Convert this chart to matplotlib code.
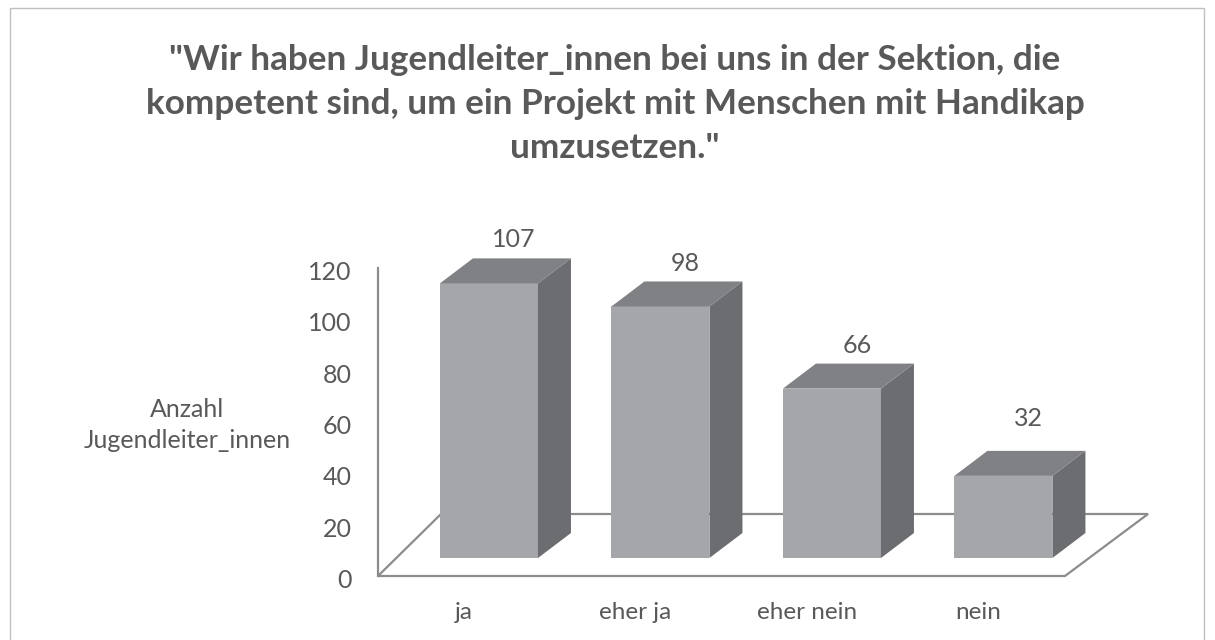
import matplotlib.pyplot as plt
from matplotlib.patches import Polygon, Rectangle
from matplotlib.transforms import ScaledTranslation

categories = ["ja", "eher ja", "eher nein", "nein"]
values = [107, 98, 66, 32]
y_ticks = [0, 20, 40, 60, 80, 100, 120]
title = ('"Wir haben Jugendleiter_innen bei uns in der Sektion, die\n'
         'kompetent sind, um ein Projekt mit Menschen mit Handikap\n'
         'umzusetzen."')
y_label = "Anzahl\nJugendleiter_innen"

W, H = 1215, 640
LEFT, RIGHT, BOTTOM, TOP = 378, 1065, 576, 268
TEXT = "#595959"

plt.rcParams["font.family"] = ["Lato", "DejaVu Sans"]

fig = plt.figure(figsize=(W / 100, H / 100), dpi=100)
fig.add_artist(Rectangle((9.5 / W, -0.01), 1194 / W, 1 - 7.5 / H + 0.01, fill=False,
                         edgecolor="#c0c0c0", linewidth=1, transform=fig.transFigure))

ax = fig.add_axes([LEFT / W, 1 - BOTTOM / H, (RIGHT - LEFT) / W, (BOTTOM - TOP) / H])
ax.patch.set_alpha(0)
ax.set_xlim(-0.647, 3.359)
ax.set_ylim(0, 120)
for side in ["top", "right", "bottom"]:
    ax.spines[side].set_visible(False)
ax.spines["left"].set_color("#8c8c8c")
ax.spines["left"].set_linewidth(1.6)

# pixel sizes converted to data units
px_x = (3.359 + 0.647) / (RIGHT - LEFT)
px_y = 120 / (BOTTOM - TOP)


def offset(dx, dy):
    return dx * px_x, dy * px_y


# floor
fx, fy = offset(83, 62)
x0, x1 = ax.get_xlim()
ax.add_patch(Polygon([(x0, 0), (x1, 0), (x1 + fx, fy), (x0 + offset(63, 0)[0], fy)],
                     closed=True, facecolor="none", edgecolor="#8c8c8c",
                     linewidth=1.6, clip_on=False))

# bars
bar_w = 98 * px_x
lift = 18 * px_y
dx, dy = offset(33, 25)
for i, v in enumerate(values):
    left = i - bar_w / 2
    right = i + bar_w / 2
    top = v + lift
    ax.add_patch(Polygon([(left, lift), (right, lift), (right, top), (left, top)],
                         facecolor="#a5a6a9", edgecolor="none", clip_on=False, zorder=3))
    ax.add_patch(Polygon([(right, lift), (right + dx, lift + dy), (right + dx, top + dy), (right, top)],
                         facecolor="#6c6d70", edgecolor="none", clip_on=False, zorder=3))
    ax.add_patch(Polygon([(left, top), (right, top), (right + dx, top + dy), (left + dx, top + dy)],
                         facecolor="#808184", edgecolor="none", clip_on=False, zorder=3))
    # the last label sits higher than the others in the original
    ax.annotate(str(v), (i, top + dy), xytext=(18, 15 if v == 32 else 5),
                textcoords="offset points", ha="center", va="bottom", fontsize=18,
                color=TEXT, annotation_clip=False)

# category labels sit left of the bars, the floor is skewed
ax.set_xticks([i - 25 * px_x for i in range(len(categories))], categories,
              fontsize=17.5, color=TEXT)
ax.set_yticks(y_ticks)
ax.tick_params(axis="y", length=0, pad=19, labelsize=18, labelcolor=TEXT)
ax.tick_params(axis="x", length=0, pad=19)
shift = ScaledTranslation(0, -2.5 / 100, fig.dpi_scale_trans)
for label in ax.get_yticklabels():
    label.set_transform(label.get_transform() + shift)

fig.text(187 / W, 1 - 425 / H, y_label, ha="center", va="center", fontsize=18,
         color=TEXT, linespacing=1.4)
fig.text(615 / W, 1 - 104 / H, title, ha="center", va="center", fontsize=25.3,
         fontweight="bold", color=TEXT, linespacing=1.48)

fig.savefig("out.png", dpi=100)
